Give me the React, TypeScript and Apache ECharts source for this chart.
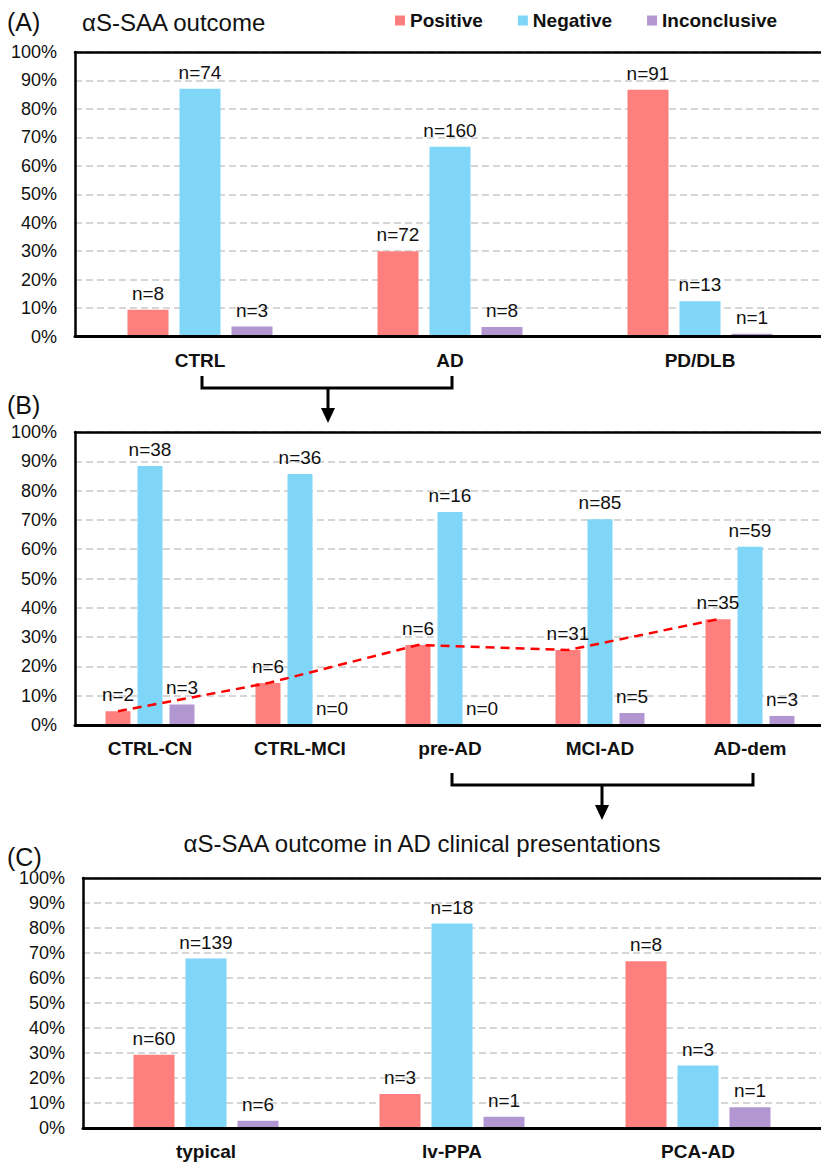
import React, { useEffect, useRef } from 'react';
import * as echarts from 'echarts';

const SERIES_NAMES = ['Positive', 'Negative', 'Inconclusive'];
const COLORS = ['#FF7F7F', '#7FD6F7', '#B196D1'];

// Panel A
const catsA = ['CTRL', 'AD', 'PD/DLB'];
const posA = [9.4, 30.0, 86.7];
const negA = [87.1, 66.7, 12.4];
const incA = [3.5, 3.3, 1.0];
const nPosA = [8, 72, 91];
const nNegA = [74, 160, 13];
const nIncA = [3, 8, 1];

// Panel B
const catsB = ['CTRL-CN', 'CTRL-MCI', 'pre-AD', 'MCI-AD', 'AD-dem'];
const posB = [4.7, 14.3, 27.3, 25.6, 36.1];
const negB = [88.4, 85.7, 72.7, 70.2, 60.8];
const incB = [7.0, 0, 0, 4.1, 3.1];
const nPosB = [2, 6, 6, 31, 35];
const nNegB = [38, 36, 16, 85, 59];
const nIncB = [3, 0, 0, 5, 3];

// Panel C
const catsC = ['typical', 'lv-PPA', 'PCA-AD'];
const posC = [29.3, 13.6, 66.7];
const negC = [67.8, 81.8, 25.0];
const incC = [2.9, 4.5, 8.3];
const nPosC = [60, 3, 8];
const nNegC = [139, 18, 3];
const nIncC = [6, 1, 1];

const Y_MIN = 0;
const Y_MAX = 100;
const Y_STEP = 10;

const FONT = '"Liberation Sans", Arial, sans-serif';

const PANELS = [
  { left: 75, top: 52, width: 750, height: 284.5, barW: 41, gap: 11, cats: catsA, vals: [posA, negA, incA], ns: [nPosA, nNegA, nIncA] },
  { left: 75, top: 432, width: 750, height: 293, barW: 25, gap: 7, cats: catsB, vals: [posB, negB, incB], ns: [nPosB, nNegB, nIncB] },
  { left: 83, top: 878, width: 738, height: 250, barW: 41, gap: 11, cats: catsC, vals: [posC, negC, incC], ns: [nPosC, nNegC, nIncC] },
];

function buildOption() {
  const grid: any[] = [];
  const xAxis: any[] = [];
  const yAxis: any[] = [];
  const series: any[] = [];

  PANELS.forEach((p, pi) => {
    grid.push({ left: p.left, top: p.top, width: p.width, height: p.height, containLabel: false, outerBoundsMode: 'none' });
    xAxis.push({
      type: 'category',
      gridIndex: pi,
      data: p.cats,
      position: 'bottom',
      z: 5,
      axisLine: { show: true, lineStyle: { color: '#000', width: 3 } },
      axisTick: { show: false },
      axisLabel: { color: '#111', fontSize: 19, fontWeight: 'bold', fontFamily: FONT, margin: 14 },
      splitLine: { show: false },
    });
    if (pi === 1) {
      xAxis.push({
        type: 'value',
        gridIndex: pi,
        position: 'top',
        min: 0,
        max: p.cats.length,
        z: 5,
        axisLine: { show: true, onZero: false, lineStyle: { color: '#000', width: 2.5 } },
        axisTick: { show: false },
        axisLabel: { show: false },
        splitLine: { show: false },
      });
    } else {
      xAxis.push({
        type: 'category',
        gridIndex: pi,
        data: p.cats,
        position: 'top',
        z: 5,
        axisLine: { show: true, onZero: false, lineStyle: { color: '#000', width: 2.5 } },
        axisTick: { show: false },
        axisLabel: { show: false },
        splitLine: { show: false },
      });
    }
    yAxis.push({
      type: 'value',
      gridIndex: pi,
      min: Y_MIN,
      max: Y_MAX,
      interval: Y_STEP,
      axisLine: { show: true, lineStyle: { color: '#000', width: 2.5 } },
      axisTick: { show: false },
      axisLabel: { color: '#111', fontSize: 18, fontFamily: FONT, margin: 18, formatter: '{value}%' },
      splitLine: { show: true, lineStyle: { color: '#D6D6D6', width: 2, type: [7, 4] } },
    });

    p.vals.forEach((vals, si) => {
      const ns = p.ns[si];
      series.push({
        name: SERIES_NAMES[si],
        type: 'bar',
        xAxisIndex: pi * 2,
        yAxisIndex: pi,
        data: vals,
        barWidth: p.barW,
        barGap: `${(p.gap / p.barW) * 100}%`,
        itemStyle: { color: COLORS[si] },
        label: {
          show: true,
          position: 'top',
          distance: 7,
          color: '#111',
          fontSize: 19,
          fontFamily: FONT,
          formatter: (params: any) => `n=${ns[params.dataIndex]}`,
        },
      });
    });

    if (pi === 1) {
      const catW = p.width / p.cats.length;
      const off = (p.barW + p.gap) / catW;
      series.push({
        name: 'trend',
        type: 'line',
        xAxisIndex: 3,
        yAxisIndex: 1,
        data: posB.map((v, i) => [i + 0.5 - off, v]),
        symbol: 'none',
        z: 4,
        lineStyle: { color: '#FF0000', width: 2.5, type: [9, 6] },
      });
    }
  });

  const black = '#000';
  const graphic: any[] = [
    { type: 'text', x: 7, y: 22, style: { text: '(A)', fontSize: 25, fontFamily: FONT, fill: '#111', verticalAlign: 'middle', textVerticalAlign: 'middle' } },
    { type: 'text', x: 82, y: 22, style: { text: 'αS-SAA outcome', fontSize: 24, fontFamily: FONT, fill: '#111', verticalAlign: 'middle', textVerticalAlign: 'middle' } },
    { type: 'text', x: 7, y: 405, style: { text: '(B)', fontSize: 25, fontFamily: FONT, fill: '#111', verticalAlign: 'middle', textVerticalAlign: 'middle' } },
    { type: 'text', x: 7, y: 857, style: { text: '(C)', fontSize: 25, fontFamily: FONT, fill: '#111', verticalAlign: 'middle', textVerticalAlign: 'middle' } },
    { type: 'text', x: 422, y: 843, style: { text: 'αS-SAA outcome in AD clinical presentations', fontSize: 24, fontFamily: FONT, fill: '#111', align: 'center', textAlign: 'center', verticalAlign: 'middle', textVerticalAlign: 'middle' } },
    { type: 'polyline', z: 10, shape: { points: [[202, 376], [202, 388], [452, 388], [452, 376]] }, style: { stroke: black, lineWidth: 3, fill: null } },
    { type: 'line', z: 10, shape: { x1: 328, y1: 388, x2: 328, y2: 410 }, style: { stroke: black, lineWidth: 3 } },
    { type: 'polygon', z: 10, shape: { points: [[321, 408], [335, 408], [328, 423]] }, style: { fill: black } },
    { type: 'polyline', z: 10, shape: { points: [[452, 773], [452, 785], [753, 785], [753, 773]] }, style: { stroke: black, lineWidth: 3, fill: null } },
    { type: 'line', z: 10, shape: { x1: 602, y1: 785, x2: 602, y2: 806 }, style: { stroke: black, lineWidth: 3 } },
    { type: 'polygon', z: 10, shape: { points: [[595, 805], [609, 805], [602, 820]] }, style: { fill: black } },
  ];

  return {
    animation: false,
    backgroundColor: '#fff',
    legend: {
      data: SERIES_NAMES,
      left: 395,
      top: 11,
      padding: 0,
      icon: 'rect',
      itemWidth: 10,
      itemHeight: 10,
      itemGap: 35,
      textStyle: { fontSize: 19, fontWeight: 'bold', color: '#111', fontFamily: FONT },
    },
    grid,
    xAxis,
    yAxis,
    series,
    graphic,
  };
}

export default function App() {
  const ref = useRef<HTMLDivElement>(null);
  useEffect(() => {
    document.body.style.margin = '0';
    if (!ref.current) return;
    const chart = echarts.init(ref.current, undefined, { renderer: 'svg' });
    chart.setOption(buildOption() as any);
    return () => chart.dispose();
  }, []);
  return <div ref={ref} style={{ width: 821, height: 1162 }} />;
}
